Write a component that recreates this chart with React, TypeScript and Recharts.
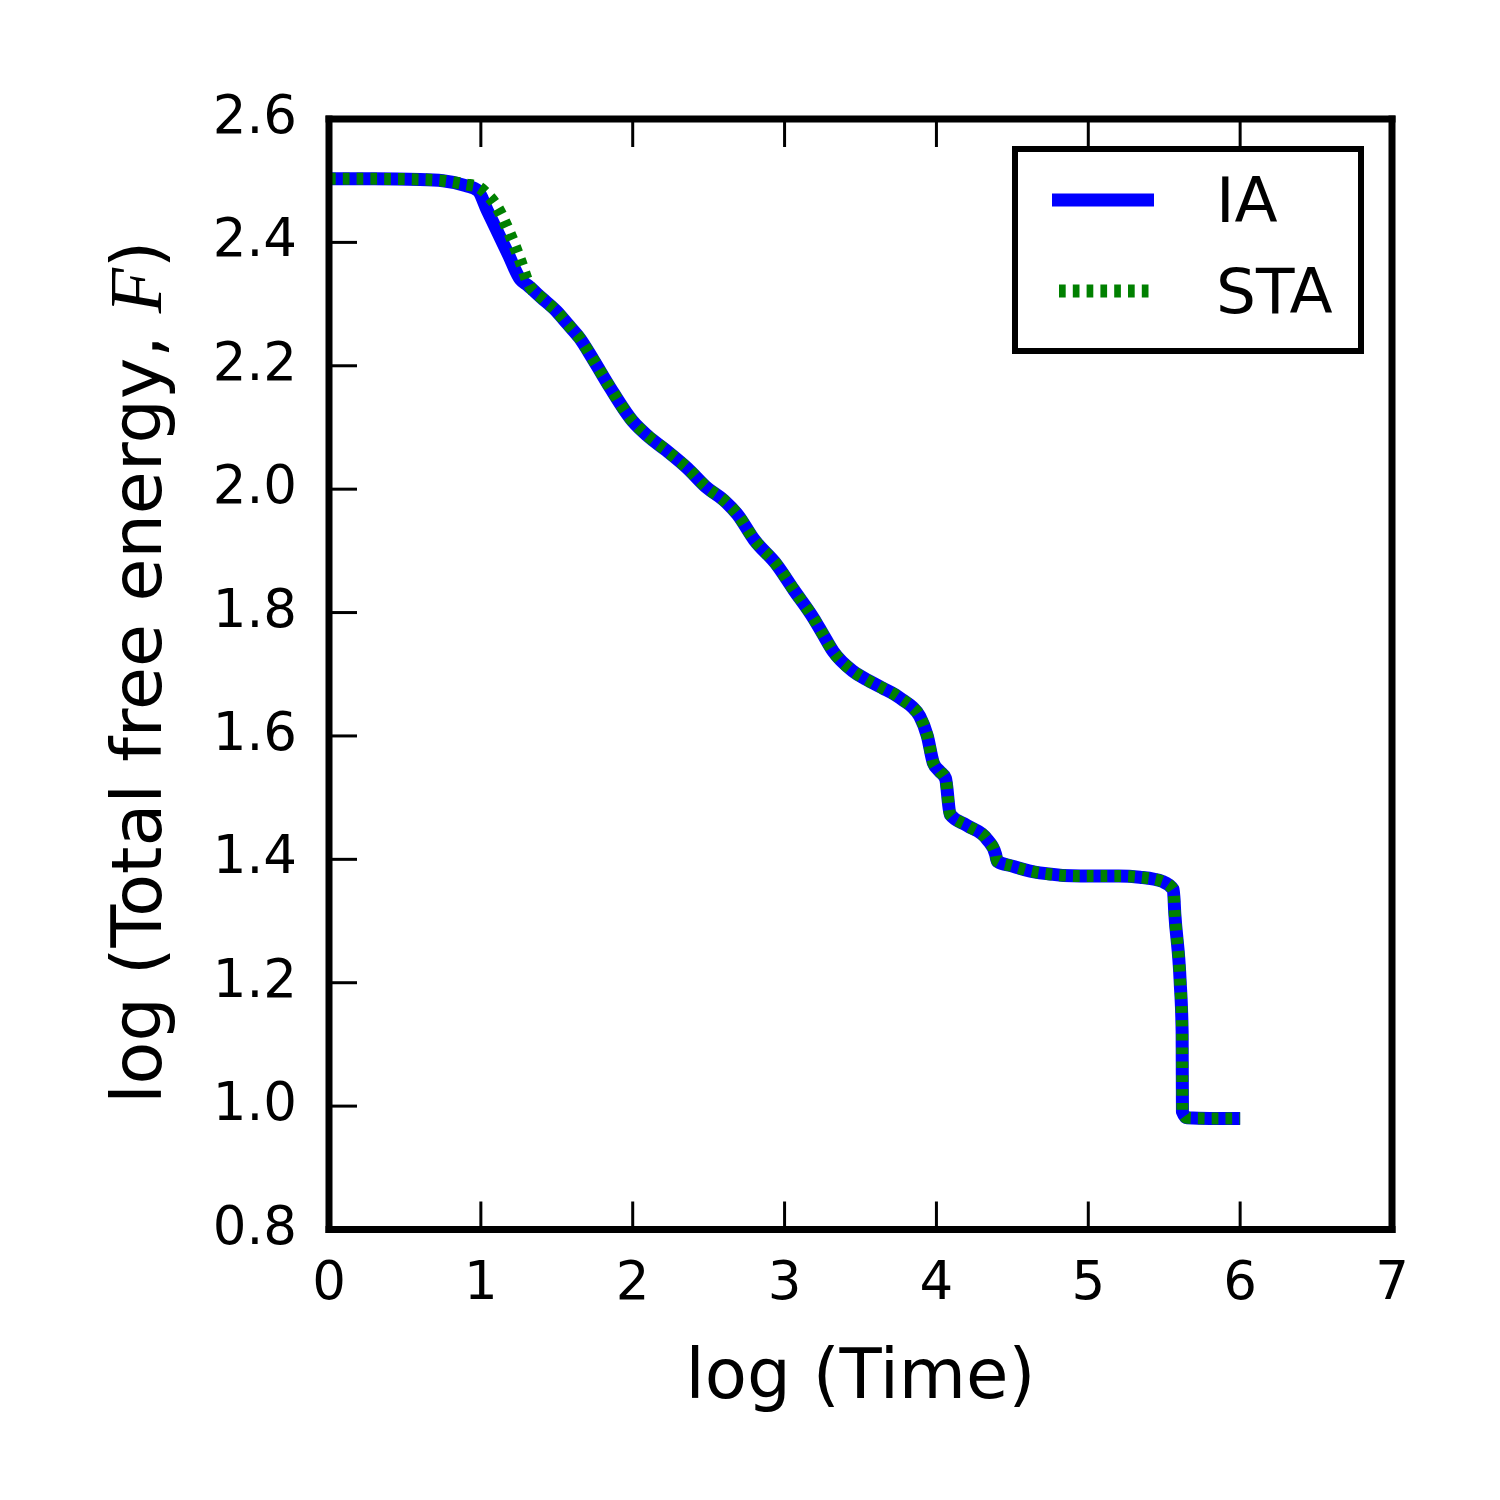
import React from 'react';
import { LineChart, Line, XAxis, YAxis, Legend } from 'recharts';

const logTime = [0, 0.3, 0.6, 0.75, 0.9, 0.98, 1.04, 1.1, 1.18, 1.26, 1.31, 1.4, 1.5, 1.57, 1.65, 1.74, 1.85, 2.0, 2.1, 2.22, 2.36, 2.49, 2.6, 2.69, 2.8, 2.95, 3.06, 3.19, 3.25, 3.32, 3.45, 3.55, 3.65, 3.72, 3.78, 3.84, 3.89, 3.94, 3.98, 4.02, 4.06, 4.09, 4.2, 4.335, 4.39, 4.4, 4.5, 4.68, 4.95, 5.2, 5.34, 5.49, 5.56, 5.57, 5.605, 5.618, 5.62, 5.65, 5.8, 6.0];

const iaValues = [2.503, 2.503, 2.502, 2.5, 2.492, 2.484, 2.453, 2.422, 2.381, 2.34, 2.33, 2.31, 2.288, 2.268, 2.245, 2.21, 2.165, 2.11, 2.086, 2.063, 2.034, 2.002, 1.982, 1.959, 1.918, 1.877, 1.837, 1.791, 1.766, 1.737, 1.705, 1.69, 1.677, 1.668, 1.658, 1.647, 1.632, 1.6, 1.556, 1.543, 1.531, 1.473, 1.455, 1.432, 1.408, 1.397, 1.389, 1.378, 1.373, 1.373, 1.371, 1.364, 1.351, 1.311, 1.202, 1.121, 0.991, 0.981, 0.98, 0.98];

const staValues = [2.503, 2.503, 2.502, 2.5, 2.494, 2.49, 2.478, 2.46, 2.42, 2.37, 2.335, 2.31, 2.288, 2.268, 2.245, 2.21, 2.165, 2.11, 2.086, 2.063, 2.034, 2.002, 1.982, 1.959, 1.918, 1.877, 1.837, 1.791, 1.766, 1.737, 1.705, 1.69, 1.677, 1.668, 1.658, 1.647, 1.632, 1.6, 1.556, 1.543, 1.531, 1.473, 1.455, 1.432, 1.408, 1.397, 1.389, 1.378, 1.373, 1.373, 1.371, 1.364, 1.351, 1.311, 1.202, 1.121, 0.991, 0.981, 0.98, 0.98];

const xTicks = [0, 1, 2, 3, 4, 5, 6, 7];
const yTicks = [0.8, 1.0, 1.2, 1.4, 1.6, 1.8, 2.0, 2.2, 2.4, 2.6];
const seriesNames = ['IA', 'STA'];

const data = logTime.map((x, i) => ({ x, ia: iaValues[i], sta: staValues[i] }));

const FONT = 'DejaVu Sans';
const TICK_LEN = 28;
const TICK_W = 3;
const SPINE_W = 7;

const BottomTick = (props: any) => {
  const { x, y, payload } = props;
  return (
    <g>
      <line x1={x} y1={y} x2={x} y2={y - TICK_LEN} stroke="#000" strokeWidth={TICK_W} />
      <text x={x} y={y + 69} textAnchor="middle" fontFamily={FONT} fontSize={53} fill="#000">
        {String(payload.value)}
      </text>
    </g>
  );
};

const TopTick = (props: any) => {
  const { x, y } = props;
  return <line x1={x} y1={y} x2={x} y2={y + TICK_LEN} stroke="#000" strokeWidth={TICK_W} />;
};

const LeftTick = (props: any) => {
  const { x, y, payload } = props;
  return (
    <g>
      <line x1={x} y1={y} x2={x + TICK_LEN} y2={y} stroke="#000" strokeWidth={TICK_W} />
      <text x={x - 32} y={y + 14} textAnchor="end" fontFamily={FONT} fontSize={53} fill="#000">
        {Number(payload.value).toFixed(1)}
      </text>
    </g>
  );
};

const RightTick = (props: any) => {
  const { x, y } = props;
  return <line x1={x} y1={y} x2={x - TICK_LEN} y2={y} stroke="#000" strokeWidth={TICK_W} />;
};

const XLabel = (props: any) => {
  const vb = props.viewBox || { x: 329, y: 1229.5, width: 1063 };
  return (
    <text x={vb.x + vb.width / 2} y={vb.y + 168} textAnchor="middle" fontFamily={FONT} fontSize={69} fill="#000">
      log (Time)
    </text>
  );
};

const YLabel = (props: any) => {
  const vb = props.viewBox || { x: 329, y: 119, height: 1110.5 };
  const cx = 161;
  const cy = vb.y + vb.height / 2 - 2;
  return (
    <text x={cx} y={cy} transform={`rotate(-90 ${cx} ${cy})`} textAnchor="middle" fontFamily={FONT} fontSize={70} fill="#000">
      log (Total free energy, <tspan fontFamily="Liberation Serif" fontStyle="italic" fontSize={74}>F</tspan>)
    </text>
  );
};

const LegendBox = () => (
  <svg width={352} height={208} style={{ display: 'block' }}>
    <rect x={3} y={3} width={346} height={202} fill="#fff" stroke="#000" strokeWidth={6} />
    <line x1={40} y1={54} x2={142} y2={54} stroke="#0000ff" strokeWidth={13} />
    <line x1={47} y1={145} x2={142} y2={145} stroke="#008000" strokeWidth={13} strokeDasharray="6.7 7.1" />
    <text x={204} y={76} fontFamily={FONT} fontSize={63} fill="#000">{seriesNames[0]}</text>
    <text x={204} y={167} fontFamily={FONT} fontSize={63} fill="#000">{seriesNames[1]}</text>
  </svg>
);

const axisLineStyle = { stroke: '#000', strokeWidth: SPINE_W, strokeLinecap: 'square' as const };

export default function App() {
  return (
    <div style={{ position: 'absolute', left: 0, top: 0, width: 1500, height: 1500, background: '#fff' }}>
      <LineChart width={1500} height={1500} data={data} margin={{ top: 118, left: 328, right: 107, bottom: 269.5 }}>
        <XAxis
          xAxisId="b"
          type="number"
          dataKey="x"
          domain={[0, 7]}
          ticks={xTicks}
          interval={0}
          orientation="bottom"
          height={1}
          tickSize={0}
          tickMargin={0}
          tickLine={false}
          axisLine={axisLineStyle}
          tick={<BottomTick />}
          label={<XLabel />}
        />
        <XAxis
          xAxisId="t"
          type="number"
          dataKey="x"
          domain={[0, 7]}
          ticks={xTicks}
          interval={0}
          orientation="top"
          height={1}
          tickSize={0}
          tickMargin={0}
          tickLine={false}
          axisLine={axisLineStyle}
          tick={<TopTick />}
        />
        <YAxis
          yAxisId="l"
          type="number"
          domain={[0.8, 2.6]}
          ticks={yTicks}
          interval={0}
          orientation="left"
          width={1}
          tickSize={0}
          tickMargin={0}
          tickLine={false}
          axisLine={axisLineStyle}
          tick={<LeftTick />}
          label={<YLabel />}
        />
        <YAxis
          yAxisId="r"
          type="number"
          domain={[0.8, 2.6]}
          ticks={yTicks}
          interval={0}
          orientation="right"
          width={1}
          tickSize={0}
          tickMargin={0}
          tickLine={false}
          axisLine={axisLineStyle}
          tick={<RightTick />}
        />
        <Line
          xAxisId="b"
          yAxisId="l"
          type="monotone"
          dataKey="ia"
          name={seriesNames[0]}
          stroke="#0000ff"
          strokeWidth={13}
          strokeLinejoin="round"
          dot={false}
          activeDot={false}
          isAnimationActive={false}
        />
        <Line
          xAxisId="b"
          yAxisId="l"
          type="monotone"
          dataKey="sta"
          name={seriesNames[1]}
          stroke="#008000"
          strokeWidth={12}
          strokeDasharray="6.7 7.1"
          strokeLinejoin="round"
          dot={false}
          activeDot={false}
          isAnimationActive={false}
        />
        <Legend
          layout="horizontal"
          verticalAlign="middle"
          align="center"
          content={() => <LegendBox />}
          wrapperStyle={{ position: 'absolute', left: 1012, top: 146, width: 352, height: 208 }}
        />
      </LineChart>
    </div>
  );
}
